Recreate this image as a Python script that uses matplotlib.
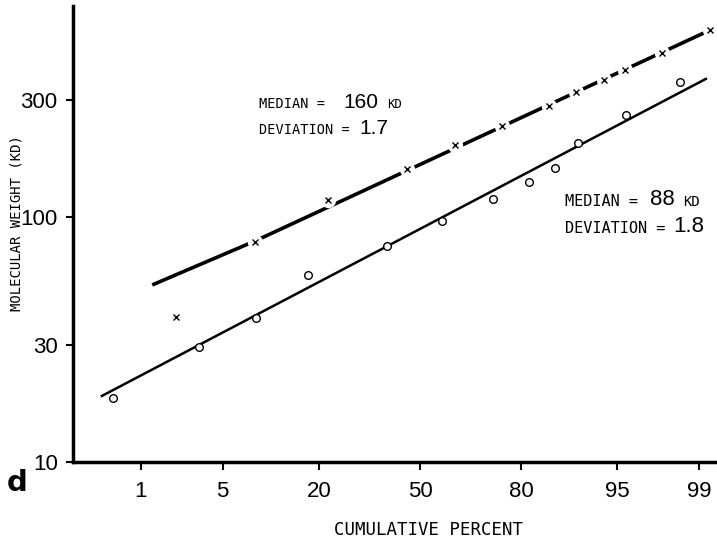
import numpy as np
import matplotlib
matplotlib.use("Agg")
import matplotlib.pyplot as plt
from statistics import NormalDist

# --- data ---
# upper series (x markers)
pct_x = [2.1, 8.5, 22.2, 45.7, 61.5, 75.3, 85.9, 90.3, 93.7, 95.6, 97.8, 99.22]
mw_x = [39, 79, 117, 157, 197, 235, 284, 324, 362, 398, 467, 580]
# lower series (o markers)
pct_o = [0.53, 3.3, 8.6, 17.5, 39.2, 57.3, 72.9, 81.8, 87.0, 90.6, 95.7, 98.5]
mw_o = [18.3, 29.5, 38.7, 58, 76, 96, 118, 139, 159, 200, 261, 356]
# fitted lines (end points as drawn)
line_x_pct = [1.28, 8.46, 99.33]
line_x_mw = [52.8, 79.8, 596]
line_o_pct = [0.40, 99.14]
line_o_mw = [18.6, 366]

xticks = [1, 5, 20, 50, 80, 95, 99]
yticks = [10, 30, 100, 300]

_nd = NormalDist()
_ppf = np.vectorize(_nd.inv_cdf, otypes=[float])
_cdf = np.vectorize(_nd.cdf, otypes=[float])

def fwd(p):
    p = np.clip(np.asarray(p, dtype=float) / 100.0, 1e-9, 1 - 1e-9)
    return _ppf(p)

def inv(z):
    return _cdf(np.asarray(z, dtype=float)) * 100.0

narrow = ['Liberation Sans', 'DejaVu Sans']
mono = ['DejaVu Sans Mono']

fig = plt.figure(figsize=(7.17, 5.42), dpi=100)
ax = fig.add_axes([73/717, 80/542, 644/717, 456/542])

ax.set_xscale('function', functions=(fwd, inv))
ax.set_yscale('log')
ax.set_xlim(0.191, 99.334)
ax.set_ylim(10, 726)

# lines
ax.plot(line_x_pct, line_x_mw, color='black', lw=2.6, zorder=2, solid_capstyle='butt')
ax.plot(line_o_pct, line_o_mw, color='black', lw=1.8, zorder=2)

# markers, with white gaps in the line
ax.plot(pct_x, mw_x, 'o', ms=11, mfc='white', mec='none', zorder=3)
ax.plot(pct_x, mw_x, 'x', ms=5, mew=1.0, color='black', zorder=4)
ax.plot(pct_o, mw_o, 'o', ms=5.5, mfc='white', mec='black', mew=1.0, zorder=4)

# axes styling
for s in ['top', 'right']:
    ax.spines[s].set_visible(False)
ax.spines['left'].set_linewidth(2.5)
ax.spines['bottom'].set_linewidth(2.5)

ax.set_xticks(xticks)
ax.set_xticklabels([str(t) for t in xticks], family=narrow, fontsize=16)
ax.set_yticks(yticks)
ax.set_yticklabels([str(t) for t in yticks], family=narrow, fontsize=16)
ax.yaxis.set_minor_locator(matplotlib.ticker.NullLocator())
ax.xaxis.set_minor_locator(matplotlib.ticker.NullLocator())
ax.tick_params(axis='x', direction='out', length=6, width=1.5, pad=8)
ax.tick_params(axis='y', direction='out', length=5, width=1.5, pad=6)

# axis titles
fig.text(17/717, 1 - 223/542, 'MOLECULAR WEIGHT (KD)', rotation=90,
         ha='center', va='center', family=mono, fontsize=10)
fig.text(428/717, 1 - 530/542, 'CUMULATIVE PERCENT',
         ha='center', va='center', family=mono, fontsize=12.5)
fig.text(17/717, 1 - 483/542, 'd', ha='center', va='center',
         family='DejaVu Sans', fontweight='bold', fontsize=21)

# annotations: letters in mono, numbers in a plainer font
def label(x, y, word, num, unit=None, size=10, gap=8, numsize=15):
    t1 = fig.text(x/717, 1 - y/542, word, family=mono, fontsize=size, va='baseline')
    t2 = ax.annotate(num, xy=(1, 0), xycoords=t1, xytext=(gap, -1),
                     textcoords='offset points', family=narrow, fontsize=numsize,
                     va='bottom')
    if unit:
        ax.annotate(unit, xy=(1, 0), xycoords=t2, xytext=(6, 1),
                    textcoords='offset points', family=mono, fontsize=size - 1,
                    va='bottom')

label(259, 108, 'MEDIAN =', '160', 'KD', size=9.8, gap=13.5, numsize=15)
label(259, 134, 'DEVIATION =', '1.7', size=9.8, gap=7, numsize=15)
label(565, 206, 'MEDIAN =', '88', 'KD', size=11, gap=8.5, numsize=16)
label(565, 233, 'DEVIATION =', '1.8', size=11, gap=6, numsize=16)

fig.savefig('out.png', dpi=100)
